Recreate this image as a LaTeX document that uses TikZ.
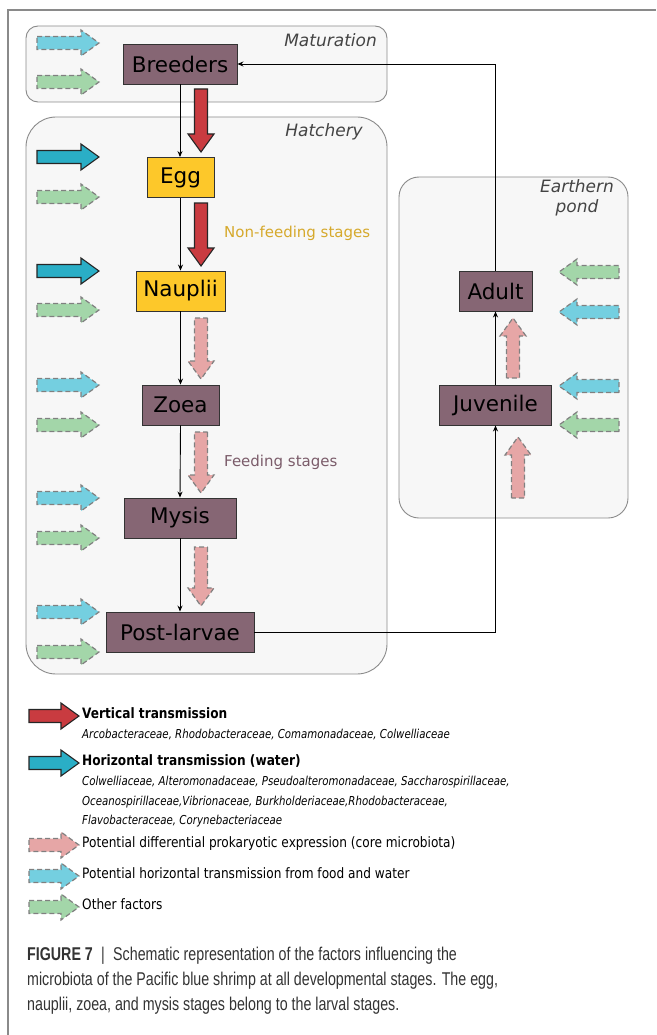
\documentclass[tikz,border=0pt]{standalone}
\usepackage{fontspec}
\setmainfont{DejaVu Sans}
\newfontfamily\legfont[FakeStretch=0.85]{DejaVu Sans}
\newfontfamily\legitfont[FakeStretch=0.83]{DejaVu Sans}
\newfontfamily\capfont[FakeStretch=0.77]{Liberation Sans}
\usetikzlibrary{arrows.meta}
\definecolor{mauve}{HTML}{866674}
\definecolor{yel}{HTML}{FDC82A}
\definecolor{redc}{HTML}{C93B40}
\definecolor{bluec}{HTML}{2AAEC6}
\definecolor{cyanc}{HTML}{74CFE0}
\definecolor{greenc}{HTML}{A3D6A9}
\definecolor{pinkc}{HTML}{E6A6A6}
\definecolor{regfill}{HTML}{F7F7F7}
\definecolor{regdraw}{HTML}{8A8A8A}
\definecolor{goldtxt}{HTML}{D6A92C}
\definecolor{mauvetxt}{HTML}{7B5C6A}
\definecolor{labtxt}{HTML}{444444}
\def\blen{62}\def\bsh{6.5}\def\bhh{13}\def\bhl{18}
\tikzset{
  alen/.store in=\blen,
  barrow/.pic={
    \path[pic actions] (0,-\bsh) -- (\blen-\bhl,-\bsh) -- (\blen-\bhl,-\bhh) -- (\blen,0)
      -- (\blen-\bhl,\bhh) -- (\blen-\bhl,\bsh) -- (0,\bsh) -- cycle;
  },
  solidarr/.style={draw=black!85, line width=1.1pt, line join=miter},
  dasharr/.style={draw=black!50, line width=1.2pt, dash pattern=on 5pt off 3pt},
  redarr/.style={solidarr, fill=redc},
  bluearr/.style={solidarr, fill=bluec},
  cyanarr/.style={dasharr, fill=cyanc},
  greenarr/.style={dasharr, fill=greenc},
  pinkarr/.style={dasharr, fill=pinkc},
  region/.style={fill=regfill, draw=regdraw, line width=0.9pt},
  stage/.style={draw=black!80, line width=0.9pt, minimum height=40pt, inner sep=0pt,
    font=\fontsize{21.5}{24}\selectfont},
  mstage/.style={stage, fill=mauve},
  ystage/.style={stage, fill=yel},
  conn/.style={draw=black, line width=0.9pt, -{Stealth[length=6pt,width=5pt]}},
  reglab/.style={font=\fontsize{17}{20}\selectfont\itshape, text=labtxt, inner sep=0pt},
  leglab/.style={anchor=west, inner sep=0pt, text height=0.75em, text depth=0.25em},
  capline/.style={anchor=west, inner sep=0pt, text height=0.75em, text depth=0.25em,
    font=\capfont\fontsize{18.5}{21}\selectfont, text=black!80},
}
\begin{document}
\begin{tikzpicture}[x=1pt,y=-1pt]
\useasboundingbox (0,0) rectangle (656,1035);
% frame
\draw[regdraw, line width=1.2pt] (8,1035) -- (8,10) -- (656,10);
% regions
\draw[region, rounded corners=12pt] (26,26) rectangle (387,102);
\draw[region, rounded corners=30pt] (26,117) rectangle (387,674);
\draw[region, rounded corners=20pt] (399,177) rectangle (628,518);
\node[reglab, anchor=east] (lmat) at (377,40) {Maturation};
\node[reglab, anchor=east] (lhat) at (363,132) {Hatchery};
\node[reglab, align=center, anchor=north] (lpond) at (577,179) {Earthern\\pond};
% stage labels
\node[font=\fontsize{15}{18}\selectfont, text=goldtxt, anchor=west, inner sep=0pt] (lnf) at (224,233) {Non-feeding stages};
\node[font=\fontsize{15}{18}\selectfont, text=mauvetxt, anchor=west, inner sep=0pt] (lfe) at (224,462) {Feeding stages};
% left arrows
\pic[cyanarr] at (37,43) {barrow};
\pic[greenarr] at (37,82) {barrow};
\pic[bluearr] at (37,157) {barrow};
\pic[greenarr] at (37,197) {barrow};
\pic[bluearr] at (37,271) {barrow};
\pic[greenarr] at (37,310) {barrow};
\pic[cyanarr] at (37,385) {barrow};
\pic[greenarr] at (37,425) {barrow};
\pic[cyanarr] at (37,498) {barrow};
\pic[greenarr] at (37,538) {barrow};
\pic[cyanarr] at (37,612) {barrow};
\pic[greenarr] at (37,652) {barrow};
% pond arrows (pointing left)
\pic[greenarr, rotate=180, alen=60] at (619,272) {barrow};
\pic[cyanarr, rotate=180, alen=60] at (619,312) {barrow};
\pic[cyanarr, rotate=180, alen=60] at (619,386) {barrow};
\pic[greenarr, rotate=180, alen=60] at (619,425) {barrow};
% vertical arrows
\pic[redarr, rotate=-90, alen=63] at (201,89) {barrow};
\pic[redarr, rotate=-90, alen=63] at (201,203) {barrow};
\pic[pinkarr, rotate=-90, alen=61] at (201,318) {barrow};
\pic[pinkarr, rotate=-90, alen=61] at (201,432) {barrow};
\pic[pinkarr, rotate=-90, alen=59] at (201,547) {barrow};
\pic[pinkarr, rotate=90, alen=60] at (513,378) {barrow};
\pic[pinkarr, rotate=90, alen=61] at (518,498) {barrow};
% stages
\node[mstage, minimum width=114pt] (breeders) at (180,64) {Breeders};
\node[ystage, minimum width=67pt] (egg) at (180.5,177.5) {Egg};
\node[ystage, minimum width=89pt] (nauplii) at (180.5,291) {Nauplii};
\node[mstage, minimum width=77pt] (zoea) at (180.5,405) {Zoea};
\node[mstage, minimum width=112pt] (mysis) at (180,518) {Mysis};
\node[mstage, minimum width=148pt] (post) at (180,632) {Post-larvae};
\node[mstage, minimum width=73pt] (adult) at (495.5,291) {Adult};
\node[mstage, minimum width=112pt] (juv) at (495.5,405) {Juvenile};
% connectors
\draw[conn] (breeders.south) -- (breeders.south |- egg.north);
\draw[conn] (egg.south) -- (nauplii.north);
\draw[conn] (nauplii.south) -- (zoea.north);
\draw[conn] (zoea.south) -- (mysis.north);
\draw[conn] (mysis.south) -- (post.north);
\draw[conn] (post.east) -| (juv.south);
\draw[conn] (juv.north) -- (adult.south);
\draw[conn] (adult.north) |- (breeders.east);
% legend
\pic[redarr, alen=50] at (29,716) {barrow};
\pic[bluearr, alen=50] at (29,763) {barrow};
\pic[pinkarr, alen=50] at (29,845) {barrow};
\pic[cyanarr, alen=50] at (29,876) {barrow};
\pic[greenarr, alen=50] at (29,907) {barrow};
\begin{scope}[every node/.append style={leglab}]
\node[font=\legfont\fontsize{14.3}{16}\selectfont\bfseries] (lv) at (82,716) {Vertical transmission};
\node[font=\legitfont\fontsize{12.3}{14}\selectfont\itshape] (lv1) at (82,736) {Arcobacteraceae, Rhodobacteraceae, Comamonadaceae, Colwelliaceae};
\node[font=\legfont\fontsize{14.3}{16}\selectfont\bfseries] (lh) at (82,763) {Horizontal transmission (water)};
\node[font=\legitfont\fontsize{12.3}{14}\selectfont\itshape] (lh1) at (82,783) {Colwelliaceae, Alteromonadaceae, Pseudoalteromonadaceae, Saccharospirillaceae,};
\node[font=\legitfont\fontsize{12.3}{14}\selectfont\itshape] (lh2) at (82,803) {Oceanospirillaceae,Vibrionaceae, Burkholderiaceae,Rhodobacteraceae,};
\node[font=\legitfont\fontsize{12.3}{14}\selectfont\itshape] (lh3) at (82,822) {Flavobacteraceae, Corynebacteriaceae};
\node[font=\legfont\fontsize{14.3}{16}\selectfont] (lp) at (82,845) {Potential differential prokaryotic expression (core microbiota)};
\node[font=\legfont\fontsize{14.3}{16}\selectfont] (lc) at (82,876) {Potential horizontal transmission from food and water};
\node[font=\legfont\fontsize{14.3}{16}\selectfont] (lg) at (82,907) {Other factors};
\end{scope}
% caption
\node[capline] (c1) at (27,958) {\textbf{FIGURE 7}\hspace{0.45em}|\hspace{0.45em}Schematic representation of the factors influencing the};
\node[capline] (c2) at (27,983) {microbiota of the Pacific blue shrimp at all developmental stages. The egg,};
\node[capline] (c3) at (27,1008) {nauplii, zoea, and mysis stages belong to the larval stages.};
\end{tikzpicture}
\end{document}
